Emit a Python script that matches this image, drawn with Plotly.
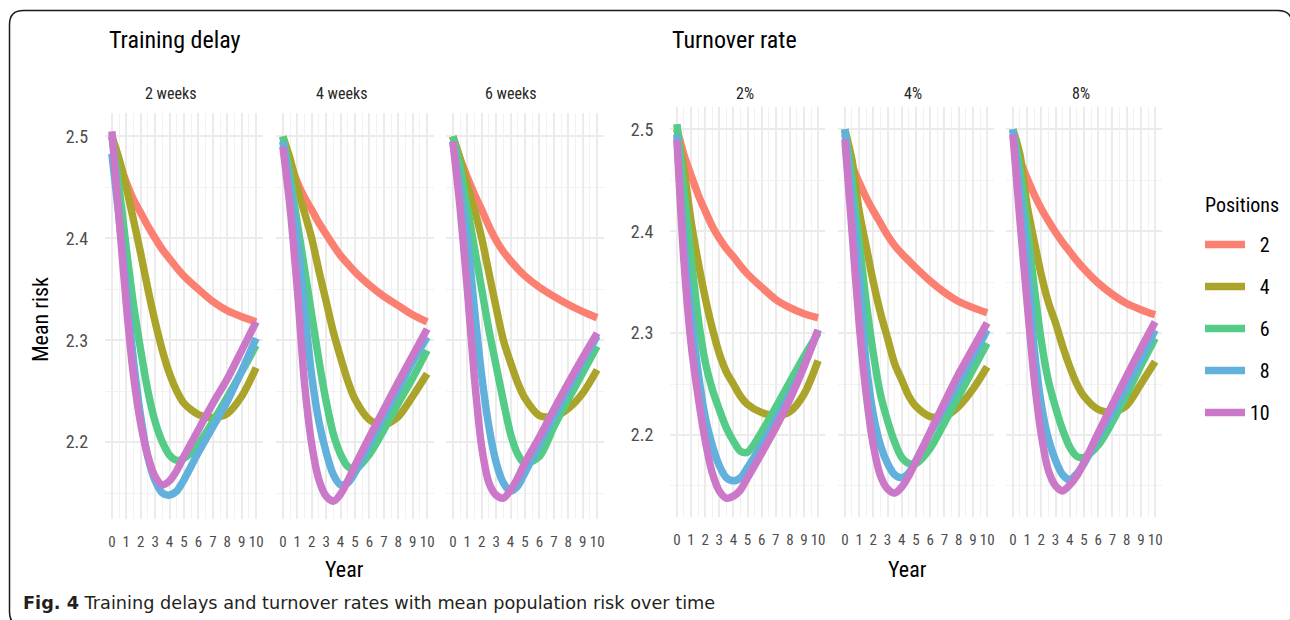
import plotly.graph_objects as go

W, H = 1290, 620
FONT = "Liberation Sans Narrow, Roboto Condensed, Roboto, sans-serif"
CAPTION_FONT = "DejaVu Sans, Open Sans, sans-serif"

years = [0, 0.5, 1, 1.5, 2, 2.5, 3, 3.5, 4, 4.5, 5, 6, 7, 8, 9, 10]
positions = [2, 4, 6, 8, 10]
colors = ["#FC8072", "#AAA52A", "#54CB87", "#62B0DC", "#CB78C8"]

# mean risk by number of positions, one table per scenario
delay_2_weeks = {
    2:  [2.500, 2.475, 2.455, 2.438, 2.425, 2.412, 2.400, 2.389, 2.380, 2.371, 2.363, 2.350, 2.338, 2.329, 2.323, 2.318],
    4:  [2.500, 2.478, 2.450, 2.418, 2.385, 2.350, 2.318, 2.290, 2.267, 2.250, 2.238, 2.227, 2.224, 2.228, 2.245, 2.273],
    6:  [2.500, 2.450, 2.390, 2.335, 2.290, 2.250, 2.220, 2.200, 2.187, 2.182, 2.184, 2.198, 2.220, 2.244, 2.269, 2.295],
    8:  [2.483, 2.420, 2.350, 2.280, 2.225, 2.185, 2.162, 2.150, 2.148, 2.152, 2.163, 2.190, 2.215, 2.240, 2.270, 2.302],
    10: [2.505, 2.420, 2.335, 2.265, 2.218, 2.186, 2.166, 2.158, 2.162, 2.172, 2.186, 2.212, 2.238, 2.262, 2.290, 2.318],
}
delay_4_weeks = {
    2:  [2.495, 2.475, 2.455, 2.440, 2.428, 2.415, 2.404, 2.393, 2.383, 2.375, 2.367, 2.354, 2.343, 2.334, 2.325, 2.318],
    4:  [2.500, 2.478, 2.450, 2.425, 2.400, 2.368, 2.338, 2.308, 2.283, 2.260, 2.242, 2.222, 2.217, 2.225, 2.245, 2.267],
    6:  [2.500, 2.460, 2.415, 2.370, 2.325, 2.280, 2.240, 2.208, 2.188, 2.176, 2.173, 2.188, 2.212, 2.238, 2.263, 2.290],
    8:  [2.495, 2.450, 2.400, 2.330, 2.265, 2.220, 2.190, 2.168, 2.158, 2.160, 2.170, 2.198, 2.225, 2.252, 2.279, 2.303],
    10: [2.490, 2.430, 2.350, 2.258, 2.198, 2.163, 2.147, 2.142, 2.149, 2.162, 2.177, 2.205, 2.232, 2.259, 2.285, 2.311],
}
delay_6_weeks = {
    2:  [2.500, 2.478, 2.460, 2.443, 2.428, 2.412, 2.398, 2.387, 2.378, 2.370, 2.363, 2.352, 2.343, 2.335, 2.328, 2.322],
    4:  [2.500, 2.478, 2.452, 2.428, 2.400, 2.366, 2.332, 2.300, 2.278, 2.258, 2.243, 2.226, 2.225, 2.233, 2.248, 2.271],
    6:  [2.500, 2.470, 2.430, 2.390, 2.350, 2.310, 2.275, 2.240, 2.208, 2.188, 2.179, 2.186, 2.215, 2.242, 2.268, 2.294],
    8:  [2.495, 2.450, 2.400, 2.330, 2.265, 2.215, 2.180, 2.160, 2.152, 2.157, 2.170, 2.198, 2.225, 2.252, 2.279, 2.304],
    10: [2.495, 2.430, 2.350, 2.262, 2.195, 2.160, 2.148, 2.145, 2.153, 2.165, 2.180, 2.205, 2.232, 2.258, 2.283, 2.307],
}
turnover_2pct = {
    2:  [2.500, 2.475, 2.455, 2.436, 2.420, 2.405, 2.393, 2.383, 2.375, 2.366, 2.358, 2.345, 2.333, 2.325, 2.319, 2.315],
    4:  [2.500, 2.460, 2.410, 2.370, 2.335, 2.305, 2.280, 2.262, 2.250, 2.238, 2.230, 2.222, 2.219, 2.223, 2.240, 2.273],
    6:  [2.505, 2.440, 2.375, 2.315, 2.272, 2.245, 2.225, 2.207, 2.194, 2.184, 2.183, 2.203, 2.227, 2.252, 2.277, 2.300],
    8:  [2.495, 2.390, 2.320, 2.262, 2.218, 2.190, 2.170, 2.158, 2.155, 2.158, 2.168, 2.190, 2.215, 2.240, 2.268, 2.303],
    10: [2.490, 2.370, 2.290, 2.238, 2.195, 2.163, 2.145, 2.138, 2.140, 2.146, 2.158, 2.182, 2.207, 2.235, 2.267, 2.303],
}
turnover_4pct = {
    2:  [2.495, 2.465, 2.448, 2.433, 2.420, 2.408, 2.396, 2.386, 2.378, 2.371, 2.364, 2.351, 2.340, 2.331, 2.325, 2.320],
    4:  [2.500, 2.470, 2.420, 2.385, 2.350, 2.320, 2.295, 2.270, 2.254, 2.238, 2.228, 2.218, 2.218, 2.228, 2.245, 2.267],
    6:  [2.500, 2.450, 2.390, 2.330, 2.280, 2.240, 2.214, 2.193, 2.178, 2.172, 2.172, 2.187, 2.212, 2.238, 2.264, 2.290],
    8:  [2.500, 2.430, 2.360, 2.270, 2.220, 2.190, 2.172, 2.161, 2.158, 2.163, 2.175, 2.202, 2.226, 2.251, 2.277, 2.303],
    10: [2.490, 2.400, 2.310, 2.240, 2.190, 2.160, 2.147, 2.143, 2.149, 2.160, 2.174, 2.203, 2.232, 2.260, 2.285, 2.310],
}
turnover_8pct = {
    2:  [2.495, 2.470, 2.452, 2.436, 2.422, 2.410, 2.399, 2.389, 2.380, 2.371, 2.363, 2.349, 2.338, 2.329, 2.323, 2.318],
    4:  [2.500, 2.475, 2.425, 2.390, 2.357, 2.330, 2.310, 2.287, 2.267, 2.250, 2.238, 2.225, 2.222, 2.229, 2.250, 2.272],
    6:  [2.500, 2.460, 2.405, 2.345, 2.292, 2.253, 2.227, 2.205, 2.188, 2.179, 2.178, 2.190, 2.213, 2.240, 2.268, 2.295],
    8:  [2.500, 2.440, 2.375, 2.285, 2.230, 2.196, 2.175, 2.161, 2.156, 2.162, 2.172, 2.198, 2.222, 2.248, 2.275, 2.303],
    10: [2.495, 2.410, 2.330, 2.255, 2.200, 2.165, 2.150, 2.145, 2.151, 2.160, 2.173, 2.202, 2.230, 2.258, 2.285, 2.311],
}

panel_labels = ["2 weeks", "4 weeks", "6 weeks", "2%", "4%", "8%"]
panel_data = [delay_2_weeks, delay_4_weeks, delay_6_weeks,
              turnover_2pct, turnover_4pct, turnover_8pct]
x_ticks = list(range(0, 11))
y_ticks = [2.2, 2.3, 2.4, 2.5]


def px(x):
    return x / W


def py(y):
    return 1 - y / H


# panel boxes in pixels: (left, right, top, bottom)
boxes = [
    (104.8, 263.2, 112.5, 519), (275.8, 434.2, 112.5, 519), (445.8, 604.2, 112.5, 519),
    (670.0, 825.0, 106.7, 517), (837.9, 994.1, 106.7, 517), (1005.9, 1162.1, 106.7, 517),
]
# horizontal centres of the strip labels
strip_x = [170, 341, 510, 745, 913, 1081]
y_ranges = [[2.1245, 2.5235]] * 3 + [[2.1195, 2.5222]] * 3

fig = go.Figure()
grid_major = "#EBEBEB"
grid_minor = "#F2F2F2"

for i, (data, box) in enumerate(zip(panel_data, boxes)):
    n = i + 1
    xa = "x" if n == 1 else f"x{n}"
    ya = "y" if n == 1 else f"y{n}"
    for pos, col in zip(positions, colors):
        fig.add_trace(go.Scatter(
            x=years, y=data[pos], mode="lines",
            line=dict(color=col, width=7.5, shape="spline", smoothing=0.8),
            name="\u2007" + str(pos) if pos < 10 else str(pos),
            legendgroup=str(pos), showlegend=(i == 0),
            xaxis=xa, yaxis=ya, hoverinfo="skip",
        ))
    l, r, t, b = box
    fig.layout[f"xaxis{'' if n == 1 else n}"] = dict(
        domain=[px(l), px(r)], range=[-0.49, 10.49], anchor=ya,
        tickvals=x_ticks, ticks="outside", ticklen=9, tickcolor="rgba(0,0,0,0)",
        tickfont=dict(family=FONT, size=15, color="#4D4D4D"),
        showgrid=True, gridcolor=grid_major, gridwidth=1.6,
        minor=dict(dtick=0.5, tick0=0, showgrid=True, gridcolor=grid_minor, gridwidth=1.2),
        zeroline=False, showline=False, fixedrange=True,
    )
    fig.layout[f"yaxis{'' if n == 1 else n}"] = dict(
        domain=[py(b), py(t)], range=y_ranges[i], anchor=xa,
        tickvals=y_ticks, ticktext=[f"{v:.1f}" for v in y_ticks],
        showticklabels=(n in (1, 4)),
        ticks="outside" if n in (1, 4) else "", ticklen=12, tickcolor="rgba(0,0,0,0)",
        tickfont=dict(family=FONT, size=18, color="#4D4D4D"),
        showgrid=True, gridcolor=grid_major, gridwidth=1.6,
        minor=dict(dtick=0.05, tick0=2.15, showgrid=True, gridcolor=grid_minor, gridwidth=1.2),
        zeroline=False, showline=False, fixedrange=True,
    )

annotations = []
# facet strip labels
for lab, sx in zip(panel_labels, strip_x):
    annotations.append(dict(
        text=lab, x=px(sx), y=py(93), xref="paper", yref="paper",
        showarrow=False, xanchor="center", yanchor="middle",
        font=dict(family=FONT, size=16, color="#262626")))
# group titles, axis titles, legend heading and caption
annotations += [
    dict(text="Training delay", x=px(107), y=py(40), xref="paper", yref="paper",
         showarrow=False, xanchor="left", yanchor="middle",
         font=dict(family=FONT, size=24, color="#000000")),
    dict(text="Turnover rate", x=px(670), y=py(40), xref="paper", yref="paper",
         showarrow=False, xanchor="left", yanchor="middle",
         font=dict(family=FONT, size=24, color="#000000")),
    dict(text="Year", x=px(345), y=py(569), xref="paper", yref="paper",
         showarrow=False, xanchor="center", yanchor="middle",
         font=dict(family=FONT, size=22, color="#000000")),
    dict(text="Year", x=px(907), y=py(569), xref="paper", yref="paper",
         showarrow=False, xanchor="center", yanchor="middle",
         font=dict(family=FONT, size=22, color="#000000")),
    dict(text="Mean risk", x=px(40), y=py(320), xref="paper", yref="paper",
         showarrow=False, xanchor="center", yanchor="middle", textangle=-90,
         font=dict(family=FONT, size=22, color="#000000")),
    dict(text="Positions", x=px(1203), y=py(205), xref="paper", yref="paper",
         showarrow=False, xanchor="left", yanchor="middle",
         font=dict(family=FONT, size=20, color="#000000")),
    dict(text="<b>Fig. 4</b> Training delays and turnover rates with mean population risk over time",
         x=px(21), y=py(603), xref="paper", yref="paper",
         showarrow=False, xanchor="left", yanchor="middle",
         font=dict(family=CAPTION_FONT, size=17.7, color="#231F20")),
]

# rounded frame around the figure
x0, y0, x1, y1, rad = 9.5, 10.5, 1292, 626, 14
frame = (f"M {px(x0)},{py(y1 - rad)} L {px(x0)},{py(y0 + rad)} "
         f"Q {px(x0)},{py(y0)} {px(x0 + rad)},{py(y0)} "
         f"L {px(x1 - rad)},{py(y0)} Q {px(x1)},{py(y0)} {px(x1)},{py(y0 + rad)} "
         f"L {px(x1)},{py(y1 - rad)} Q {px(x1)},{py(y1)} {px(x1 - rad)},{py(y1)} "
         f"L {px(x0 + rad)},{py(y1)} Q {px(x0)},{py(y1)} {px(x0)},{py(y1 - rad)} Z")

fig.update_layout(
    width=W, height=H, margin=dict(l=0, r=0, t=0, b=0),
    paper_bgcolor="white", plot_bgcolor="white",
    annotations=annotations,
    shapes=[dict(type="path", path=frame, xref="paper", yref="paper",
                 line=dict(color="#1A1A1A", width=1.5), fillcolor="rgba(0,0,0,0)")],
    legend=dict(
        x=px(1200), y=py(225), xanchor="left", yanchor="top",
        font=dict(family=FONT, size=20, color="#000000"),
        tracegroupgap=13, itemwidth=40, bgcolor="rgba(0,0,0,0)",
    ),
)

fig.write_html("out.html")
